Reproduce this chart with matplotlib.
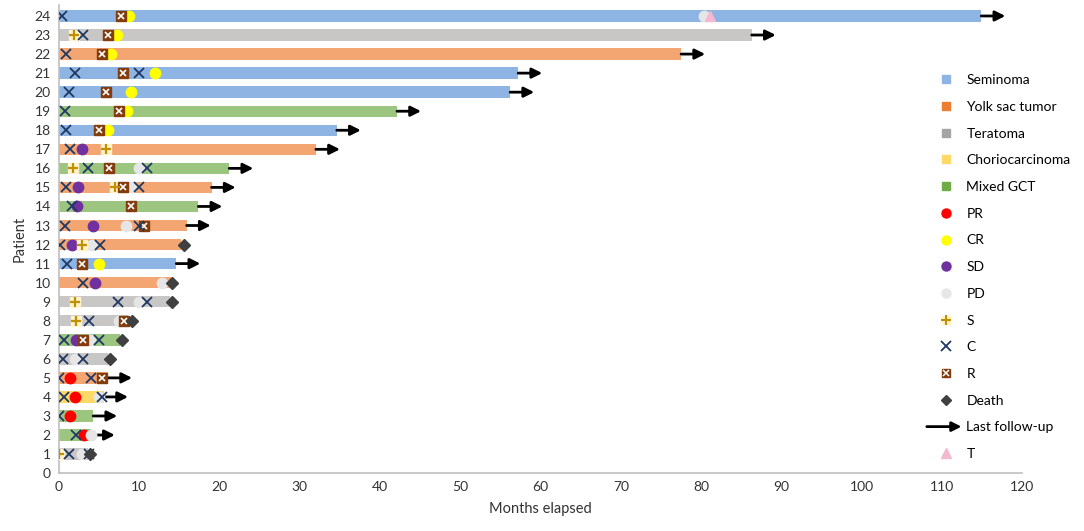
import matplotlib
matplotlib.use("Agg")
import matplotlib.pyplot as plt
from matplotlib.lines import Line2D
from matplotlib.patches import FancyArrowPatch
from matplotlib.legend_handler import HandlerBase, HandlerTuple

plt.rcParams['font.family'] = ['Lato', 'DejaVu Sans']

# =====================================================
# DATA
# =====================================================
patients = list(range(1, 25))
durations = [3.6, 3.95, 4.25, 5.6, 6.1, 6.1, 7.6, 8.6, 13.8, 13.9, 14.6, 15.2,
             15.9, 17.35, 19.0, 21.2, 32.0, 34.6, 42.1, 56.2, 57.2, 77.5, 86.3, 114.9]
tumor = ["Teratoma", "Mixed GCT", "Mixed GCT", "Choriocarcinoma", "Yolk sac tumor",
         "Teratoma", "Mixed GCT", "Teratoma", "Teratoma", "Yolk sac tumor",
         "Seminoma", "Yolk sac tumor", "Yolk sac tumor", "Mixed GCT", "Yolk sac tumor",
         "Mixed GCT", "Yolk sac tumor", "Seminoma", "Mixed GCT", "Seminoma",
         "Seminoma", "Yolk sac tumor", "Teratoma", "Seminoma"]

alive = [2, 3, 4, 5, 11, 13, 14, 15, 16, 17, 18, 19, 20, 21, 22, 23, 24]
death = [(1, 3.9), (6, 6.4), (7, 7.8), (8, 9.1), (9, 14.1), (10, 14.1), (12, 15.6)]

# (patient, month)
pr = [(2, 3.1), (3, 1.4), (4, 2.0), (5, 1.4)]
cr = [(11, 5.0), (18, 6.1), (19, 8.5), (20, 9.0), (21, 12.0), (22, 6.45),
      (23, 7.2), (24, 8.66)]
sd = [(7, 2.05), (10, 4.5), (12, 1.6), (13, 4.25), (14, 2.2), (15, 2.4), (17, 2.8)]
pd_ = [(1, 2.9), (2, 4.0), (4, 5.0), (6, 2.0), (7, 3.9), (8, 7.45), (9, 10.0),
       (10, 12.8), (12, 4.1), (13, 8.3), (15, 9.0), (16, 10.0), (24, 80.3)]
surg = [(1, 0.0), (8, 2.05), (9, 2.0), (12, 2.8), (15, 7.0), (16, 1.75),
        (17, 5.9), (23, 1.8)]
chemo = [(1, 1.25), (1, 3.75), (2, 2.05), (3, 0.0), (4, 0.6), (4, 5.3), (5, 0.0),
         (5, 4.0), (6, 0.55), (6, 3.0), (7, 0.6), (7, 5.0), (8, 3.7), (9, 7.3),
         (9, 11.0), (10, 3.0), (11, 1.0), (12, 0.17), (12, 5.1), (13, 0.7),
         (13, 9.9), (14, 1.6), (15, 0.9), (15, 10.0), (16, 3.6), (16, 11.0),
         (17, 1.34), (18, 0.84), (19, 0.8), (20, 1.25), (21, 1.96), (21, 9.9),
         (22, 0.9), (23, 3.0), (24, 0.42)]
radio = [(5, 5.4), (7, 3.0), (8, 8.1), (11, 2.8), (13, 10.6), (14, 8.95), (15, 8.0),
         (16, 6.2), (18, 5.0), (19, 7.45), (20, 5.9), (21, 8.0), (22, 5.4),
         (23, 6.1), (24, 7.66)]
transp = [(24, 81.1)]

tumor_types = ["Seminoma", "Yolk sac tumor", "Teratoma", "Choriocarcinoma", "Mixed GCT"]
bar_colors = {"Seminoma": "#8DB4E2", "Yolk sac tumor": "#F4A672",
              "Teratoma": "#C9C6C6", "Choriocarcinoma": "#FFD966",
              "Mixed GCT": "#9CC67F"}
legend_colors = {"Seminoma": "#8DB4E2", "Yolk sac tumor": "#ED7D31",
                 "Teratoma": "#A5A5A5", "Choriocarcinoma": "#FFD966",
                 "Mixed GCT": "#70AD47"}

# =====================================================
# PLOT
# =====================================================
fig = plt.figure(figsize=(10.84, 5.31), dpi=100)
ax = fig.add_axes([0.0545, 0.109, 0.8885, 0.881])

ax.barh(patients, durations, height=0.6,
        color=[bar_colors[t] for t in tumor], zorder=2)


def pts(ev):
    return [e[1] for e in ev], [e[0] for e in ev]


x, y = pts(pr)
ax.plot(x, y, 'o', ls='none', color='#FF0000', ms=7.5, zorder=4)
x, y = pts(cr)
ax.plot(x, y, 'o', ls='none', color='#FFFF00', ms=7.5, zorder=4)
x, y = pts(sd)
ax.plot(x, y, 'o', ls='none', color='#7030A0', ms=7.5, zorder=4)
x, y = pts(pd_)
ax.plot(x, y, 'o', ls='none', color='#E7E6E6', ms=7.5, zorder=4)
x, y = pts(surg)
ax.plot(x, y, 's', ls='none', color='#FFF2CC', ms=6.5, zorder=4)
ax.plot(x, y, '+', ls='none', color='#BF9000', ms=7, mew=1.6, zorder=5)
x, y = pts(radio)
ax.plot(x, y, 's', ls='none', color='#843C0C', ms=6.5, zorder=4)
ax.plot(x, y, 'x', ls='none', color='white', ms=5, mew=1.2, zorder=5)
x, y = pts(chemo)
ax.plot(x, y, 'x', ls='none', color='#1F3864', ms=7.5, mew=1.3, zorder=6)
x, y = pts(death)
ax.plot(x, y, 'D', ls='none', color='#404040', ms=6, zorder=6)
x, y = pts(transp)
ax.plot(x, y, '^', ls='none', color='#F4B8D0', ms=7.5, zorder=6)

for p in alive:
    end = durations[p - 1]
    ax.annotate('', xy=(end + 3.0, p), xytext=(end, p),
                arrowprops=dict(arrowstyle='-|>', color='black', lw=2,
                                mutation_scale=15, shrinkA=0, shrinkB=0),
                zorder=3)

ax.set_xlim(0, 120)
ax.set_ylim(0, 24.56)
ax.set_xticks(range(0, 121, 10))
ax.set_yticks(range(0, 25))
ax.tick_params(length=0, labelsize=10, colors='#333333', pad=6)
for s in ['top', 'right']:
    ax.spines[s].set_visible(False)
for s in ['left', 'bottom']:
    ax.spines[s].set_color('#BFBFBF')
    ax.spines[s].set_linewidth(1.2)
ax.set_xlabel("Months elapsed", fontsize=10.5, color='#333333', labelpad=6)
ax.set_ylabel("Patient", fontsize=10.5, color='#333333', labelpad=6)


# =====================================================
# LEGEND
# =====================================================
class ArrowHandler(HandlerBase):
    def create_artists(self, legend, orig_handle, xdescent, ydescent,
                       width, height, fontsize, trans):
        a = FancyArrowPatch((-xdescent - 2, height / 2), (width - xdescent, height / 2),
                            arrowstyle='-|>', mutation_scale=14, lw=2,
                            color='black', transform=trans,
                            shrinkA=0, shrinkB=0)
        return [a]


handles = []
labels = []
for t in tumor_types:
    handles.append(Line2D([], [], marker='s', ls='none', color=legend_colors[t], ms=5.5))
    labels.append(t)
for lab, c in [("PR", '#FF0000'), ("CR", '#FFFF00'), ("SD", '#7030A0'), ("PD", '#E7E6E6')]:
    handles.append(Line2D([], [], marker='o', ls='none', color=c, ms=6.5))
    labels.append(lab)
handles.append((Line2D([], [], marker='s', ls='none', color='#FFF2CC', ms=6),
                Line2D([], [], marker='+', ls='none', color='#BF9000', ms=6.5, mew=1.5)))
labels.append("S")
handles.append(Line2D([], [], marker='x', ls='none', color='#1F3864', ms=7, mew=1.3))
labels.append("C")
handles.append((Line2D([], [], marker='s', ls='none', color='#843C0C', ms=6),
                Line2D([], [], marker='x', ls='none', color='white', ms=4.5, mew=1.1)))
labels.append("R")
handles.append(Line2D([], [], marker='D', ls='none', color='#404040', ms=5))
labels.append("Death")
arrow_handle = object()
handles.append(arrow_handle)
labels.append("Last follow-up")
handles.append(Line2D([], [], marker='^', ls='none', color='#F4B8D0', ms=6.5))
labels.append("T")

fig.legend(handles, labels, loc='upper left', bbox_to_anchor=(0.846, 0.884),
           frameon=False, fontsize=10, labelspacing=1.06, handlelength=2.3,
           handletextpad=0.35,
           handler_map={tuple: HandlerTuple(ndivide=1, pad=0),
                        arrow_handle: ArrowHandler()})

fig.savefig("out.png", dpi=100)
